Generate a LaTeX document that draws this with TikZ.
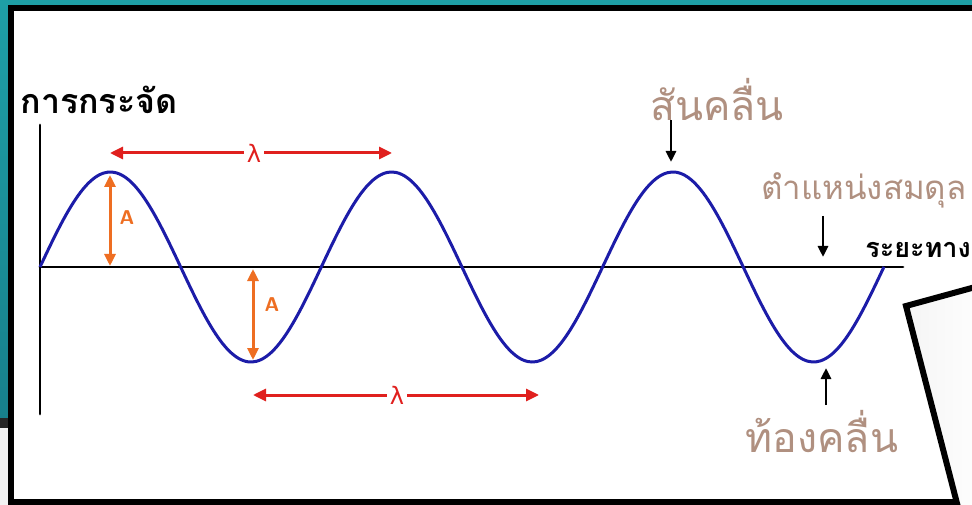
\documentclass[tikz,border=0pt]{standalone}
\usepackage{fontspec}
\newfontfamily\thai[Script=Thai]{Loma}
\newfontfamily\symf{DejaVu Sans}
\usetikzlibrary{arrows.meta}
\definecolor{bgteal}{HTML}{1E9FA6}
\definecolor{bgdark}{HTML}{17808C}
\definecolor{wave}{HTML}{1C1CA8}
\definecolor{lam}{HTML}{E0201E}
\definecolor{amp}{HTML}{EE6E22}
\definecolor{brown}{HTML}{B09080}
\tikzset{
  panel/.style={line width=6pt, black},
  axis/.style={line width=2.8pt, black, line cap=round},
  wavepath/.style={line width=3pt, wave},
  lamarrow/.style={line width=3pt, lam, {Triangle[length=13pt,width=12pt]}-{Triangle[length=13pt,width=12pt]}},
  amparrow/.style={line width=3pt, amp, {Triangle[length=12pt,width=11pt]}-{Triangle[length=12pt,width=11pt]}},
  markarrow/.style={line width=2.8pt, black, -{Triangle[length=11pt,width=10pt]}},
  blacklabel/.style={font=\thai\bfseries\fontsize{34}{38}\selectfont, text=black, inner sep=0pt},
  distlabel/.style={font=\thai\bfseries\fontsize{27}{32}\selectfont, text=black, inner sep=0pt},
  brownlabel/.style={font=\thai\fontsize{41}{46}\selectfont, text=brown, inner sep=0pt},
  brownsmall/.style={font=\thai\fontsize{33}{38}\selectfont, text=brown, inner sep=0pt},
  lamlabel/.style={font=\symf\fontsize{24}{28}\selectfont, text=lam, fill=white, inner sep=3pt},
  amplabel/.style={font=\sffamily\bfseries\fontsize{20}{24}\selectfont, text=amp, inner sep=0pt}
}
\begin{document}
\begin{tikzpicture}[x=1pt,y=-1pt]
\useasboundingbox (0,0) rectangle (972,505);
% background
\shade[top color=bgteal, bottom color=bgdark] (0,0) rectangle (972,420);
\fill[black!85] (0,418) rectangle (20,428);
\fill[gray!10] (0,428) rectangle (20,505);
% main panel
\fill[white] (8,5) rectangle (980,510);
\draw[panel] (11,515) -- (11,8) -- (990,8);
\draw[panel] (8,502) -- (990,502);
% slanted card
\shade[left color=gray!8, right color=white] (906,306) -- (990,283) -- (990,515) -- (960,515) -- cycle;
\draw[panel] (990,283) -- (906,306) -- (960,515);
% axes
\coordinate (o) at (40,267);
\coordinate (ytop) at (40,125);
\coordinate (ybot) at (40,414);
\coordinate (xend) at (903,267);
\draw[axis] (ytop) -- (ybot);
\draw[axis] (o) -- (xend);
% wave
\draw[wavepath] plot[domain=40:884, samples=200, smooth] (\x, {267 - 95*sin(1.27977*(\x-40))});
% wavelength arrows
\coordinate (l1a) at (110,153);
\coordinate (l1b) at (392,153);
\draw[lamarrow] (l1a) -- (l1b);
\node[lamlabel] (lam1) at (254,153) {λ};
\coordinate (l2a) at (253,395);
\coordinate (l2b) at (539,395);
\draw[lamarrow] (l2a) -- (l2b);
\node[lamlabel] (lam2) at (397,395) {λ};
% amplitude arrows
\coordinate (a1a) at (110,175);
\coordinate (a1b) at (110,266);
\draw[amparrow] (a1a) -- (a1b);
\node[amplabel] (A1) at (127,218) {A};
\coordinate (a2a) at (253,269);
\coordinate (a2b) at (253,360);
\draw[amparrow] (a2a) -- (a2b);
\node[amplabel] (A2) at (272,305) {A};
% labels
\node[blacklabel] (disp) at (99,100) {การกระจัด};
\node[distlabel] (dist) at (918,250) {ระยะทาง};
\node[brownlabel] (crest) at (717,100) {สันคลื่น};
\node[brownsmall] (equil) at (864,190) {ตำแหน่งสมดุล};
\node[brownlabel] (trough) at (822,432) {ท้องคลื่น};
% pointer arrows
\coordinate (c1) at (671,120);
\coordinate (c2) at (671,162);
\draw[markarrow] (c1) -- (c2);
\coordinate (e1) at (823,216);
\coordinate (e2) at (823,257);
\draw[markarrow] (e1) -- (e2);
\coordinate (tr1) at (826,405);
\coordinate (tr2) at (826,368);
\draw[markarrow] (tr1) -- (tr2);
\end{tikzpicture}
\end{document}
